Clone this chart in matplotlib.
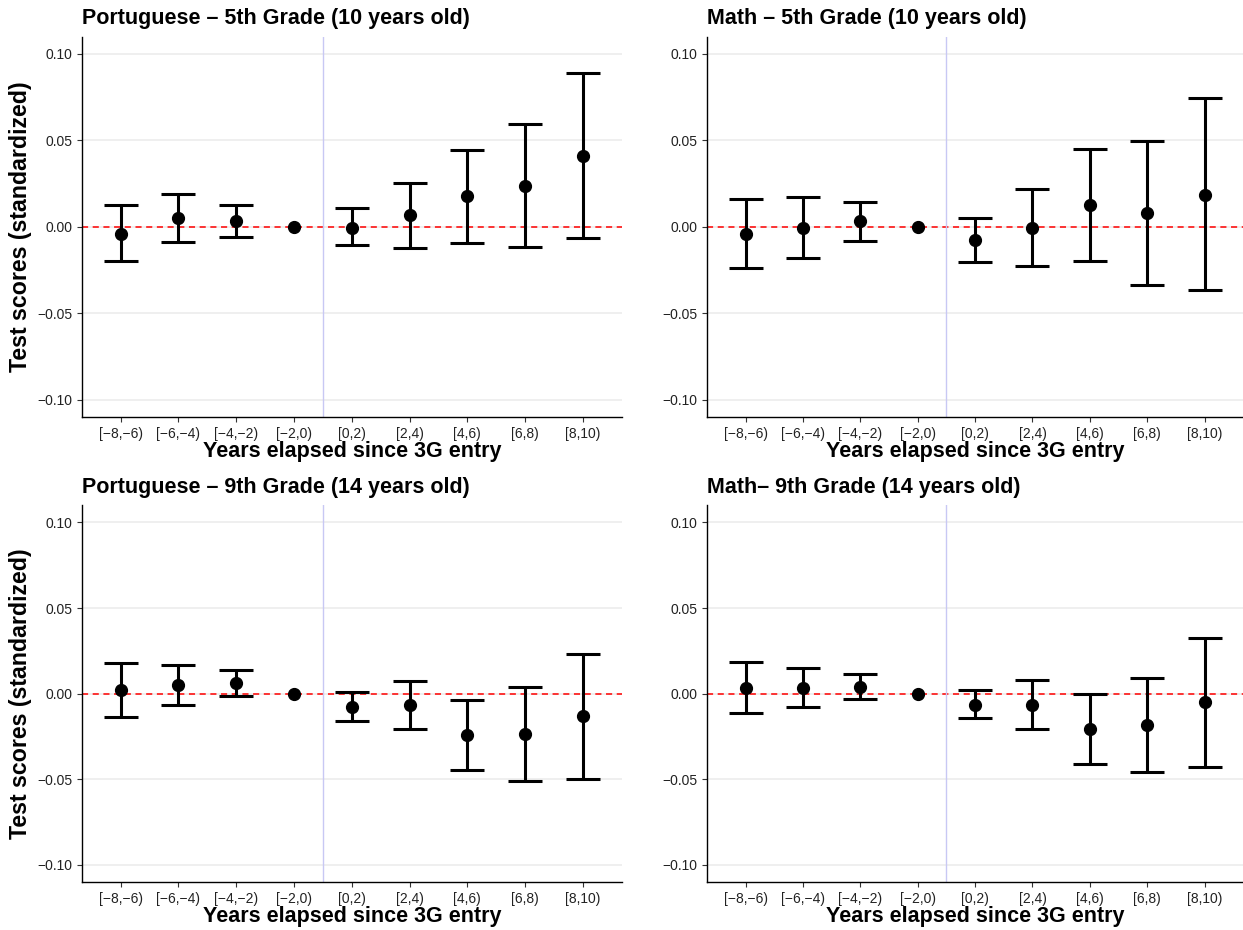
import numpy as np
import matplotlib
matplotlib.use("Agg")
import matplotlib.pyplot as plt
from matplotlib.ticker import FuncFormatter

plt.rcParams['font.family'] = ['Liberation Sans', 'DejaVu Sans']

periods = ["[\u22128,\u22126)", "[\u22126,\u22124)", "[\u22124,\u22122)", "[\u22122,0)",
           "[0,2)", "[2,4)", "[4,6)", "[6,8)", "[8,10)"]

titles = ["Portuguese \u2013 5th Grade (10 years old)",
          "Math \u2013 5th Grade (10 years old)",
          "Portuguese \u2013 9th Grade (14 years old)",
          "Math\u2013 9th Grade (14 years old)"]

# point estimates and 95% bounds, one list per panel
port5_est = [-0.0040, 0.0050, 0.0033, 0.0, -0.0004, 0.0066, 0.0176, 0.0238, 0.0412]
port5_hi = [0.0124, 0.0190, 0.0124, 0.0, 0.0108, 0.0255, 0.0445, 0.0592, 0.0888]
port5_lo = [-0.0200, -0.0090, -0.0058, 0.0, -0.0106, -0.0120, -0.0091, -0.0114, -0.0064]

math5_est = [-0.0039, -0.0004, 0.0033, 0.0, -0.0077, -0.0004, 0.0124, 0.0081, 0.0186]
math5_hi = [0.0162, 0.0172, 0.0145, 0.0, 0.0050, 0.0220, 0.0449, 0.0499, 0.0743]
math5_lo = [-0.0240, -0.0178, -0.0081, 0.0, -0.0205, -0.0226, -0.0199, -0.0337, -0.0368]

port9_est = [0.0023, 0.0048, 0.0062, 0.0, -0.0076, -0.0068, -0.0240, -0.0234, -0.0132]
port9_hi = [0.0178, 0.0167, 0.0138, 0.0, 0.0010, 0.0076, -0.0037, 0.0039, 0.0234]
port9_lo = [-0.0134, -0.0068, -0.0016, 0.0, -0.0161, -0.0205, -0.0444, -0.0508, -0.0496]

math9_est = [0.0035, 0.0033, 0.0039, 0.0, -0.0064, -0.0068, -0.0205, -0.0184, -0.0050]
math9_hi = [0.0186, 0.0149, 0.0116, 0.0, 0.0023, 0.0078, 0.0000, 0.0089, 0.0326]
math9_lo = [-0.0110, -0.0079, -0.0033, 0.0, -0.0143, -0.0205, -0.0409, -0.0455, -0.0426]

panels = [(port5_est, port5_lo, port5_hi),
          (math5_est, math5_lo, math5_hi),
          (port9_est, port9_lo, port9_hi),
          (math9_est, math9_lo, math9_hi)]

rects = [[0.066, 0.5516, 0.434, 0.409],
         [0.569, 0.5516, 0.431, 0.409],
         [0.066, 0.0516, 0.434, 0.405],
         [0.569, 0.0516, 0.431, 0.405]]


def fmt_y(v, pos):
    return ("%.2f" % v).replace("-", "\u2212")


fig = plt.figure(figsize=(12.43, 9.30), dpi=100)

for i, (est, lo, hi) in enumerate(panels):
    ax = fig.add_axes(rects[i])
    x = np.arange(1, len(periods) + 1)
    est = np.array(est)
    lo = np.array(lo)
    hi = np.array(hi)

    for yv in [-0.10, -0.05, 0.0, 0.05, 0.10]:
        ax.axhline(yv, color='#ebebeb', lw=1.1, zorder=0)
    ax.axhline(0, color='#ff0000', lw=1.1, ls=(0, (4, 3)), zorder=1)
    ax.axvline(4.5, color='#c8c8f4', lw=1.0, zorder=1)

    # reference period has no interval, only the point
    has_ci = hi > lo
    ax.errorbar(x[has_ci], est[has_ci], yerr=[est[has_ci] - lo[has_ci], hi[has_ci] - est[has_ci]],
                fmt='none', ecolor='black', elinewidth=2.2, capsize=12, capthick=2.2, zorder=3)
    ax.plot(x, est, 'o', color='black', ms=8.5, zorder=4)

    ax.set_xlim(0.33, 9.67)
    ax.set_ylim(-0.11, 0.11)
    ax.set_xticks(x)
    ax.set_xticklabels(periods)
    ax.set_yticks([-0.10, -0.05, 0.0, 0.05, 0.10])
    ax.yaxis.set_major_formatter(FuncFormatter(fmt_y))
    ax.tick_params(labelsize=10, colors='#333333', length=3.5, width=0.8,
                   labelcolor='#222222')
    for s in ['top', 'right']:
        ax.spines[s].set_visible(False)
    for s in ['left', 'bottom']:
        ax.spines[s].set_linewidth(1.0)
        ax.spines[s].set_color('black')

    ax.set_title(titles[i], loc='left', fontsize=15.5, fontweight='bold', pad=9)
    ax.set_xlabel("Years elapsed since 3G entry", fontsize=15.5, fontweight='bold',
                  labelpad=0)
    if i % 2 == 0:
        ax.set_ylabel("Test scores (standardized)", fontsize=16.7, fontweight='bold',
                      labelpad=4)

fig.savefig("out.png", dpi=100)
